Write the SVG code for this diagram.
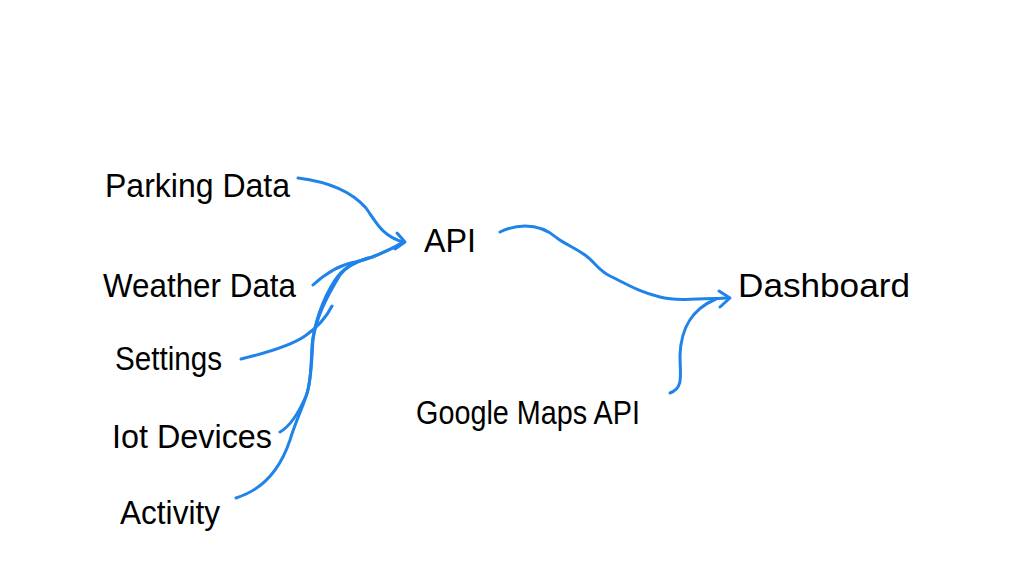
<svg xmlns="http://www.w3.org/2000/svg" width="1024" height="565" viewBox="0 0 1024 565">
<style>
.t{font-family:"Liberation Sans","DejaVu Sans",sans-serif;font-size:33px;fill:#000}
.c{fill:none;stroke:#1f83ea;stroke-width:3;stroke-linecap:round;stroke-linejoin:round}
</style>
<rect width="1024" height="565" fill="#fff"/>
<g id="parking"><text class="t" x="105" y="197" textLength="185" lengthAdjust="spacingAndGlyphs">Parking Data</text></g>
<g id="weather"><text class="t" x="103" y="297" textLength="193" lengthAdjust="spacingAndGlyphs">Weather Data</text></g>
<g id="settings"><text class="t" x="115" y="370" textLength="107" lengthAdjust="spacingAndGlyphs">Settings</text></g>
<g id="iot"><text class="t" x="112" y="448" textLength="160" lengthAdjust="spacingAndGlyphs">Iot Devices</text></g>
<g id="activity"><text class="t" x="120" y="524" textLength="100" lengthAdjust="spacingAndGlyphs">Activity</text></g>
<g id="api"><text class="t" x="424" y="252" textLength="52" lengthAdjust="spacingAndGlyphs">API</text></g>
<g id="dashboard"><text class="t" x="738" y="297" textLength="172" lengthAdjust="spacingAndGlyphs">Dashboard</text></g>
<g id="gmaps"><text class="t" x="416" y="424" textLength="224" lengthAdjust="spacingAndGlyphs">Google Maps API</text></g>
<g id="connectors">
<path class="c" d="M298 178 C330 182 352 192 366 208 C376 222 382 236 403 242"/>
<path class="c" d="M397 233 L405 242 L395 249"/>
<path class="c" d="M313 285 C325 274 338 265 355 262 C370 259 380 254 395 247"/>
<path class="c" d="M241 359 C270 352 292 345 305 336 C318 327 326 318 332 306"/>
<path class="c" d="M280 432 C292 425 300 410 306 396 C311 383 311 365 312 345 C314 325 322 300 335 280 C342 270 350 263 372 257 C385 252 395 247 403 242"/>
<path class="c" d="M236 498 C262 490 280 470 290 440 C296 420 304 405 308 390 C312 370 312 355 313 340 C316 318 326 298 340 275 C345 268 352 263 368 258"/>
<path class="c" d="M500 232 C508 228 515 226 525 226 C538 226 548 230 557 238 C565 244 575 248 585 255 C595 262 598 270 610 276 C630 286 640 292 660 297 C675 301 700 299 728 298"/>
<path class="c" d="M719 291 L730 298 L720 307"/>
<path class="c" d="M670 393 C684 388 680 375 680 355 C681 330 690 310 716 299"/>
</g>
</svg>
